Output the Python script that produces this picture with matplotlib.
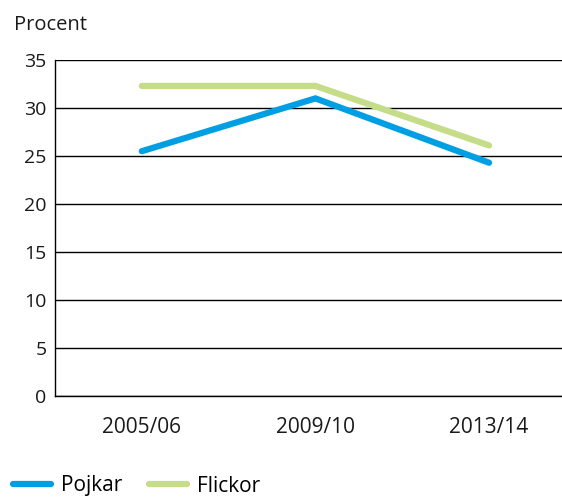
import matplotlib.pyplot as plt
from matplotlib.lines import Line2D

# data
years = ["2005/06", "2009/10", "2013/14"]
pojkar = [25.5, 31.0, 24.3]
flickor = [32.3, 32.3, 26.1]

blue = "#009fe3"
green = "#c5dc89"

plt.rcParams['font.family'] = ['Open Sans', 'DejaVu Sans']

fig = plt.figure(figsize=(5.62, 4.97), dpi=100)
ax = fig.add_axes([55 / 562, 101 / 497, 1 - 55 / 562, 336 / 497])

x = range(len(years))
ax.plot(x, pojkar, color=blue, lw=4.5, solid_capstyle='round', solid_joinstyle='miter', zorder=3)
ax.plot(x, flickor, color=green, lw=4.5, solid_capstyle='round', solid_joinstyle='miter', zorder=2)

ax.set_ylim(0, 35)
ax.set_xlim(-0.5, 2.42)
ax.set_yticks(range(0, 36, 5))
ax.set_xticks(list(x))
ax.set_xticklabels(years)
ax.tick_params(length=0, colors='#1a1a1a')
ax.tick_params(axis='y', labelsize=14, pad=6)
ax.tick_params(axis='x', labelsize=15, pad=15)
ax.yaxis.grid(True, color='black', lw=1)
ax.set_axisbelow(True)
for s in ['top', 'right']:
    ax.spines[s].set_visible(False)
for s in ['left', 'bottom']:
    ax.spines[s].set_color('black')
    ax.spines[s].set_linewidth(1)

fig.text(14 / 562, 1 - 25 / 497, "Procent", fontsize=14.5, va='center', ha='left', color='#1a1a1a')

handles = [Line2D([], [], color=blue, lw=4.5, solid_capstyle='round'),
           Line2D([], [], color=green, lw=4.5, solid_capstyle='round')]
fig.legend(handles, ["Pojkar", "Flickor"], loc='center left',
           bbox_to_anchor=(13 / 562, 1 - 486 / 497), ncol=2, frameon=False,
           fontsize=15, handlelength=1.8, handletextpad=0.5, columnspacing=1.3,
           borderaxespad=0, borderpad=0)

fig.savefig("out.png", dpi=100)
